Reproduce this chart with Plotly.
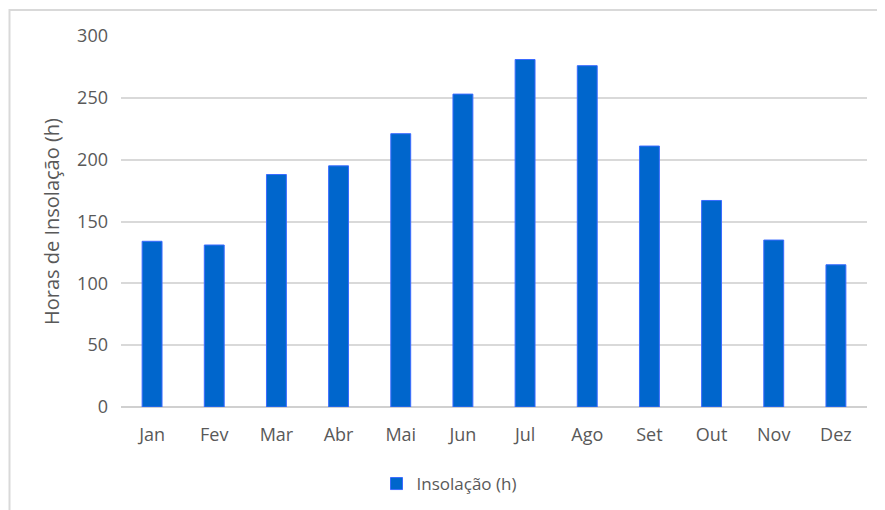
import plotly.graph_objects as go

months = ["Jan", "Fev", "Mar", "Abr", "Mai", "Jun", "Jul", "Ago", "Set", "Out", "Nov", "Dez"]
insolacao = [134, 131, 188, 195, 221, 253, 281, 276, 211, 167, 135, 115]
y_ticks = [0, 50, 100, 150, 200, 250, 300]

OFF = 8  # page body margin
W, H = 885 - OFF, 510 - OFF
L, T = 121 - OFF, 36 - OFF
R, B = 18, 103
pw = W - L - R
ph = H - T - B

def px_x(x):
    return (x - OFF - L) / pw

def px_y(y):
    return (H - B - (y - OFF)) / ph

fig = go.Figure()
fig.add_trace(go.Bar(
    x=months, y=insolacao, name="Insolação (h)",
    marker=dict(color="#0066CC", line=dict(color="#3A6BFF", width=1)),
    showlegend=True,
))

fig.update_layout(
    width=W, height=H,
    margin=dict(l=L, r=R, t=T, b=B, autoexpand=False),
    paper_bgcolor="white", plot_bgcolor="white",
    font=dict(family="Open Sans, sans-serif", color="#595959", size=18),
    bargap=0.68,
    showlegend=True,
    legend=dict(orientation="h", x=px_x(449), xanchor="center", y=px_y(484), yanchor="middle",
                font=dict(size=17, color="#595959")),
    xaxis=dict(showgrid=False, showline=False, ticks="", automargin=False, ticklabelstandoff=15,
               tickfont=dict(size=18, color="#595959")),
    yaxis=dict(range=[0, 300], tickvals=y_ticks, showgrid=True, gridcolor="#D9D9D9", gridwidth=1.5,
               zeroline=True, zerolinecolor="#D0D0D0", zerolinewidth=1.5, automargin=False,
               ticks="", ticklabelstandoff=12, tickfont=dict(size=18, color="#595959"),
               title=dict(text="Horas de Insolação (h)", font=dict(size=20, color="#595959"), standoff=12)),
    shapes=[dict(type="rect", xref="paper", yref="paper",
                 x0=px_x(9.5), x1=px_x(884), y0=px_y(520), y1=px_y(10),
                 line=dict(color="#D9D9D9", width=2), fillcolor="rgba(0,0,0,0)", layer="below")],
)

fig.write_html("out.html")
